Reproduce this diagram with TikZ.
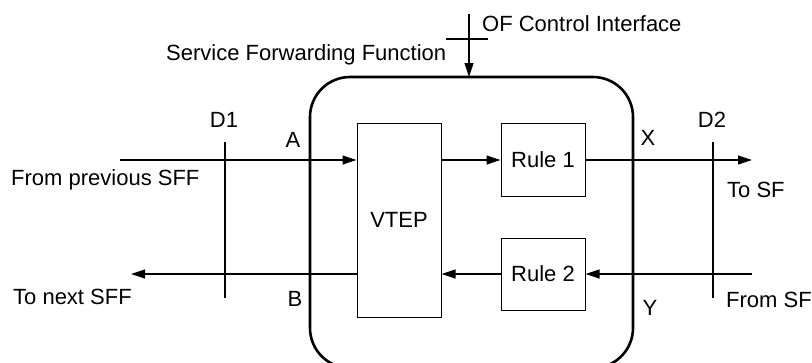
\documentclass[tikz,border=0pt]{standalone}
\usepackage{fontspec}
\setmainfont{Liberation Sans}
\usetikzlibrary{arrows.meta}
\begin{document}
\begin{tikzpicture}[x=1pt,y=-1pt,
  font=\fontsize{22}{26}\selectfont,
  thin line/.style={line width=1.2pt, draw=black},
  arr/.style={thin line, -{Triangle[length=14pt,width=9pt]}},
  blk/.style={draw=black, line width=1pt, inner sep=0pt, minimum width=84pt},
  lbl/.style={inner sep=0pt, anchor=base},
  lblw/.style={inner sep=0pt, anchor=base west}]
\useasboundingbox (0,0) rectangle (812,362);
\begin{scope}
\clip (0,0) rectangle (812,362);
\draw[line width=2.6pt, rounded corners=40pt] (310,77) rectangle (633,368);
\end{scope}
\coordinate (sfftop) at (469,77);
% blocks
\node[blk, minimum height=194pt] (vtep) at (399,220) {VTEP};
\node[blk, minimum height=73pt] (r1) at (543,160) {Rule 1};
\node[blk, minimum height=72pt] (r2) at (543,274) {Rule 2};
% free ends
\coordinate (inA) at (120,160);
\coordinate (outB) at (131,274);
\coordinate (outX) at (752,160);
\coordinate (inY) at (752,274);
\coordinate (ofs) at (469,14);
\coordinate (tickl) at (446,39);
\coordinate (tickr) at (488,39);
\coordinate (d1t) at (225,142);
\coordinate (d1b) at (225,298);
\coordinate (d2t) at (713,142);
\coordinate (d2b) at (713,298);
% connectors
\draw[arr] (inA) -- (vtep.west |- inA);
\draw[arr] (vtep.east |- r1.west) -- (r1.west);
\draw[arr] (r1.east) -- (outX);
\draw[arr] (inY) -- (r2.east);
\draw[arr] (r2.west) -- (vtep.east |- r2.west);
\draw[arr] (vtep.west |- outB) -- (outB);
\draw[arr] (ofs) -- (sfftop);
\draw[thin line] (tickl) -- (tickr);
\draw[thin line] (d1t) -- (d1b);
\draw[thin line] (d2t) -- (d2b);
% labels
\node[lblw] (ofl) at (482,31) {OF Control Interface};
\node[lblw] (sffl) at (166,60) {Service Forwarding Function};
\node[lbl] (d1l) at (224,127) {D1};
\node[lbl] (al) at (293,147) {A};
\node[lbl] (bl) at (295,306) {B};
\node[lbl] (xl) at (648,145) {X};
\node[lbl] (yl) at (650,315) {Y};
\node[lbl] (d2l) at (712,127) {D2};
\node[lblw] (fpl) at (11,185) {From previous SFF};
\node[lblw] (tnl) at (13,304) {To next SFF};
\node[lblw] (tsl) at (727,197) {To SF};
\node[lblw] (fsl) at (726,307) {From SF};
\end{tikzpicture}
\end{document}
